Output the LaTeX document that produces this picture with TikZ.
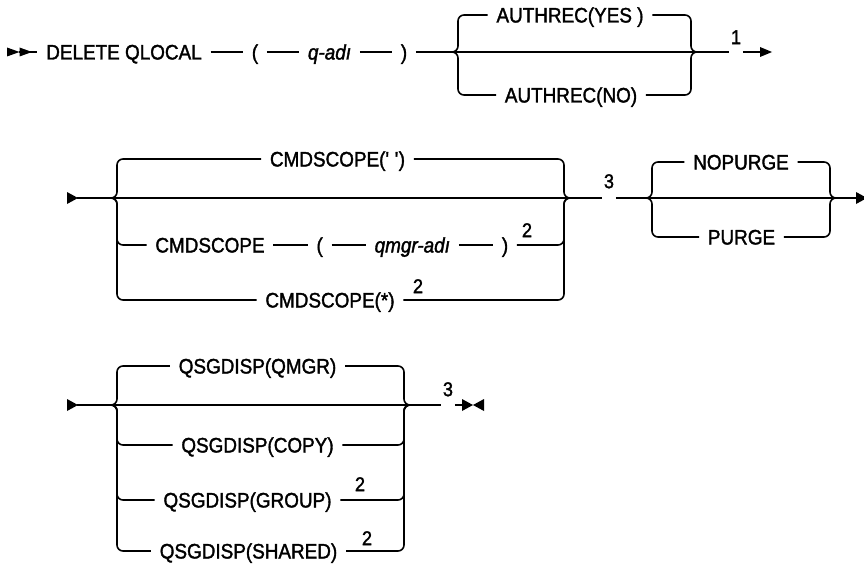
\documentclass[tikz,border=0pt]{standalone}
\usepackage{fontspec}
\setmainfont{Liberation Sans}[FakeBold=1.6,AutoFakeBold=1.6,FakeStretch=0.9]
\begin{document}
\begin{tikzpicture}[x=1pt,y=-1pt,line width=1.6pt,
  kw/.style={font=\fontsize{21}{24}\selectfont\bfseries,inner xsep=8pt,inner ysep=0pt,text height=15pt,text depth=0pt},
  var/.style={kw,font=\fontsize{21}{24}\selectfont\bfseries\itshape},
  fn/.style={font=\fontsize{20}{23}\selectfont\bfseries,inner xsep=1pt,inner ysep=0pt,text height=14.3pt,text depth=0pt},
  br/.style={rounded corners=6pt},
  tipshape/.style={fill=black,draw=none}]
\useasboundingbox (0,0) rectangle (864,567);

% ---------------- Row 1 ----------------
\fill[tipshape] (7,47.5) -- (19.5,52) -- (7,56.5) -- cycle;
\fill[tipshape] (19.5,47.5) -- (32,52) -- (19.5,56.5) -- cycle;
\coordinate (s1a) at (19,52);
\coordinate (s1b) at (37,52);
\draw (s1a) -- (s1b);
\node[kw] (delq) at (124,52) {DELETE QLOCAL};
\node[kw] (lp1) at (255,52) {(};
\node[var] (qadi) at (329.5,52) {q-adı};
\node[kw] (rp1) at (404,52) {)};
\draw (delq.east) -- (lp1.west) (lp1.east) -- (qadi.west) (qadi.east) -- (rp1.west);
\coordinate (lb1) at (452,52);
\coordinate (rb1) at (697,52);
\node[kw] (ayes) at (570,15) {AUTHREC(YES )};
\node[kw] (ano) at (571,95) {AUTHREC(NO)};
\node[fn] (f1) at (736,37) {1};
\coordinate (e1) at (760,52);
\draw (rp1.east) -- (lb1) -- (rb1) -- (f1.west |- rb1);
\draw (f1.east |- rb1) -- (e1);
\fill[tipshape] (760,47) -- (772,52) -- (760,57) -- cycle;
\draw[br] (lb1) -- ++(6,0) |- (ayes.west);
\draw[br] (lb1) -- ++(6,0) |- (ano.west);
\draw[br] (ayes.east) -| ([xshift=-6pt]rb1) -- (rb1);
\draw[br] (ano.east) -| ([xshift=-6pt]rb1) -- (rb1);

% ---------------- Row 2 ----------------
\fill[tipshape] (67,192) -- (78,198) -- (67,204) -- cycle;
\coordinate (s2) at (77,198);
\coordinate (lb2) at (111,198);
\coordinate (rb2) at (570,198);
\node[kw] (cmdb) at (337.5,159) {CMDSCOPE(\textquotesingle\ \textquotesingle)};
\node[kw] (cmdq) at (210,245) {CMDSCOPE};
\node[kw] (lp2) at (319.7,245) {(};
\node[var] (qmgr) at (412.3,245) {qmgr-adı};
\node[kw] (rp2) at (505,245) {)};
\node[fn] (f2a) at (527,230) {2};
\node[kw] (cmds) at (330,300) {CMDSCOPE(*)};
\node[fn] (f2b) at (418,286) {2};
\node[fn] (f3a) at (609,181) {3};
\draw (s2) -- (lb2) -- (rb2) -- (f3a.west |- rb2);
\draw[br] (lb2) -- ++(6,0) |- (cmdb.west);
\draw[br] (lb2) -- ++(6,0) |- (cmdq.west);
\draw[br] (lb2) -- ++(6,0) |- (cmds.west);
\draw (cmdq.east) -- (lp2.west) (lp2.east) -- (qmgr.west) (qmgr.east) -- (rp2.west);
\draw[br] (cmdb.east) -| ([xshift=-6pt]rb2) -- (rb2);
\draw[br] (rp2.east) -| ([xshift=-6pt]rb2) -- (rb2);
\draw[br] (cmds.east) -| ([xshift=-6pt]rb2) -- (rb2);

\coordinate (lb4) at (646,198);
\coordinate (rb4) at (836,198);
\node[kw] (nop) at (741,162) {NOPURGE};
\node[kw] (pur) at (741.5,237) {PURGE};
\coordinate (e2) at (856,198);
\draw (f3a.east |- rb2) -- (lb4) -- (rb4) -- (e2);
\fill[tipshape] (856,192) -- (867,198) -- (856,204) -- cycle;
\draw[br] (lb4) -- ++(6,0) |- (nop.west);
\draw[br] (lb4) -- ++(6,0) |- (pur.west);
\draw[br] (nop.east) -| ([xshift=-6pt]rb4) -- (rb4);
\draw[br] (pur.east) -| ([xshift=-6pt]rb4) -- (rb4);

% ---------------- Row 3 ----------------
\fill[tipshape] (67,399) -- (78,405) -- (67,411) -- cycle;
\coordinate (s3) at (77,405);
\coordinate (lb3) at (111,405);
\coordinate (rb3) at (410,405);
\node[kw] (qm) at (257.5,366) {QSGDISP(QMGR)};
\node[kw] (cp) at (257.5,445) {QSGDISP(COPY)};
\node[kw] (gr) at (247.5,500) {QSGDISP(GROUP)};
\node[fn] (f2c) at (360,484) {2};
\node[kw] (sh) at (248.5,551) {QSGDISP(SHARED)};
\node[fn] (f2d) at (367,538) {2};
\node[fn] (f3b) at (448,389) {3};
\coordinate (e3) at (462,405);
\draw (s3) -- (lb3) -- (rb3) -- (f3b.west |- rb3);
\draw (f3b.east |- rb3) -- (e3);
\fill[tipshape] (462,399) -- (473,405) -- (462,411) -- cycle;
\fill[tipshape] (484,399) -- (473,405) -- (484,411) -- cycle;
\draw[br] (lb3) -- ++(6,0) |- (qm.west);
\draw[br] (lb3) -- ++(6,0) |- (cp.west);
\draw[br] (lb3) -- ++(6,0) |- (gr.west);
\draw[br] (lb3) -- ++(6,0) |- (sh.west);
\draw[br] (qm.east) -| ([xshift=-6pt]rb3) -- (rb3);
\draw[br] (cp.east) -| ([xshift=-6pt]rb3) -- (rb3);
\draw[br] (gr.east) -| ([xshift=-6pt]rb3) -- (rb3);
\draw[br] (sh.east) -| ([xshift=-6pt]rb3) -- (rb3);
\end{tikzpicture}
\end{document}
